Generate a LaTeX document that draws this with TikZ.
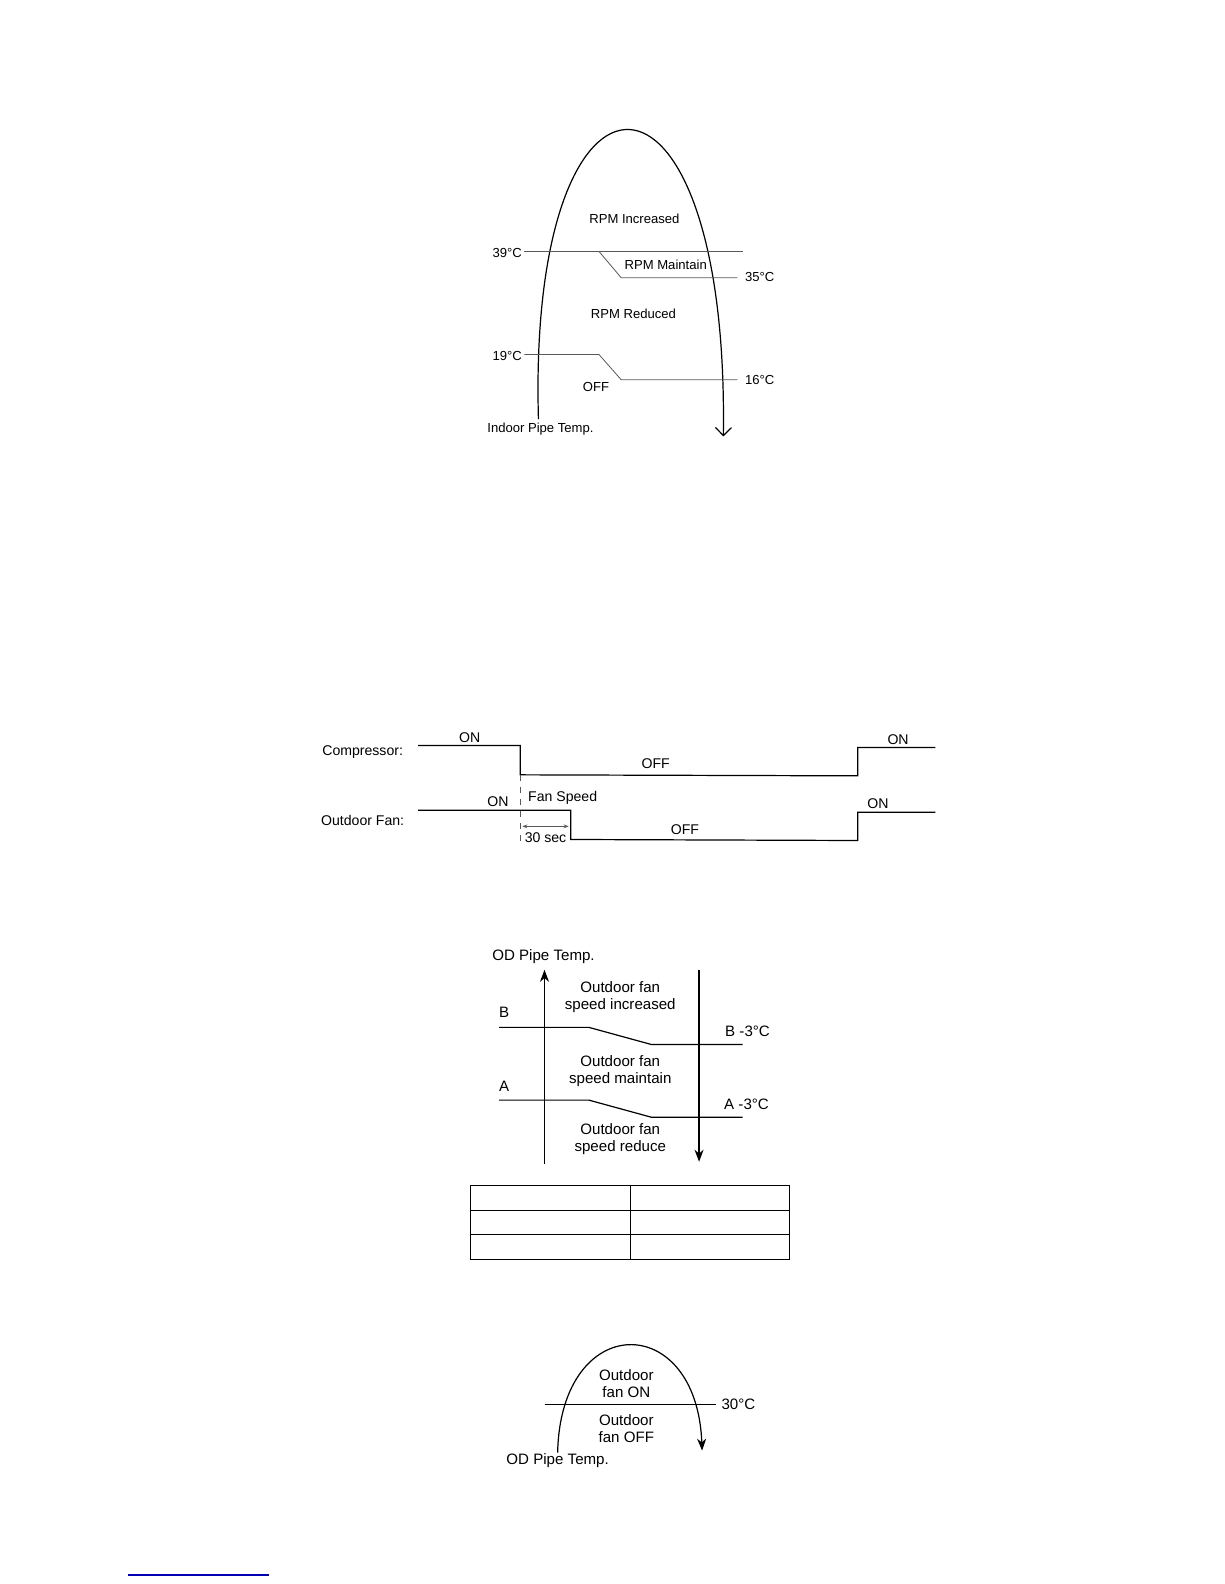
\documentclass[tikz,border=0pt]{standalone}
\usepackage{fontspec}
\setmainfont{Liberation Sans}
\usetikzlibrary{arrows.meta}
\begin{document}
\begin{tikzpicture}[x=0.5bp,y=-0.5bp,
  ln/.style={line width=0.6pt},
  lt/.style={line width=0.4pt, gray!70!black},
  ta/.style={font=\fontsize{6.5}{7.5}\selectfont, inner sep=0pt},
  tb/.style={font=\fontsize{7}{8}\selectfont, inner sep=0pt},
  tc/.style={font=\fontsize{7.5}{8.5}\selectfont, inner sep=0pt, align=center}]
\useasboundingbox (0,0) rectangle (1212,1568);
% top diagram
\coordinate (c1s) at (533,415); \coordinate (c1e) at (716,432);
\draw[ln,-{Straight Barb[length=4pt]}] (c1s) .. controls (522,30) and (722,30) .. (c1e);
\draw[lt] (519,249) -- (735,249);
\draw[lt] (593,249) -- (615,275) -- (730,275);
\draw[lt] (519,351) -- (593,351) -- (615,376) -- (730,376);
\node[ta] (t39) at (502,250) {39°C};
\node[ta] (t35) at (752,274) {35°C};
\node[ta] (t19) at (502,352) {19°C};
\node[ta] (t16) at (752,376) {16°C};
\node[ta] (ri) at (628,217) {RPM Increased};
\node[ta] (rm) at (659,262) {RPM Maintain};
\node[ta] (rr) at (627,311) {RPM Reduced};
\node[ta] (off1) at (590,383) {OFF};
\node[ta] (ipt) at (535,425) {Indoor Pipe Temp.};
% timing
\draw[ln] (414,738) -- (515,738) -- (515,767) -- (849,768) -- (849,740) -- (926,740);
\draw[ln] (414,802) -- (565,802) -- (565,831) -- (849,832) -- (849,804) -- (926,804);
\draw[lt, dashed] (515,767) -- (515,835);
\draw[lt,{Stealth[length=2.5pt]}-{Stealth[length=2.5pt]}] (517,818) -- (563,818);
\node[tb] (cmp) at (359,744) {Compressor:};
\node[tb] (ofn) at (359,812) {Outdoor Fan:};
\node[tb] (on1) at (465,730) {ON};
\node[tb] (of2) at (649,756) {OFF};
\node[tb] (on2) at (889,732) {ON};
\node[tb] (fs) at (557,790) {Fan Speed};
\node[tb] (on3) at (493,794) {ON};
\node[tb] (on4) at (869,796) {ON};
\node[tb] (of3) at (678,821) {OFF};
\node[tb] (s30) at (540,829) {30 sec};
% OD diagram
\draw[ln,-{Stealth[length=6pt]}] (539,1152) -- (539,960);
\draw[ln,-{Stealth[length=6pt]}] (692,960) -- (692,1150);
\draw[ln] (494,1017) -- (583,1017) -- (645,1034) -- (735,1034);
\draw[ln] (494,1089) -- (583,1089) -- (645,1106) -- (735,1106);
\node[tc] (odp) at (538,947) {OD Pipe Temp.};
\node[tc] (b) at (499,1002) {B};
\node[tc] (b3) at (740,1021) {B -3°C};
\node[tc] (a) at (499,1075) {A};
\node[tc] (a3) at (739,1093) {A -3°C};
\node[tc] (z1) at (614,987) {Outdoor fan\\speed increased};
\node[tc] (z2) at (614,1060) {Outdoor fan\\speed maintain};
\node[tc] (z3) at (614,1128) {Outdoor fan\\speed reduce};
% table
\draw[line width=0.5pt] (466,1174) rectangle (782,1247);
\draw[line width=0.5pt] (466,1198) -- (782,1198) (466,1222) -- (782,1222) (624,1174) -- (624,1247);
% bottom
\draw[ln,-{Stealth[length=6pt]}] (552,1438) .. controls (555,1297) and (690,1297) .. (695,1436);
\draw[ln] (539,1390) -- (709,1390);
\node[tc] (t30) at (731,1390) {30°C};
\node[tc] (fon) at (620,1370) {Outdoor\\fan ON};
\node[tc] (foff) at (620,1414) {Outdoor\\fan OFF};
\node[tc] (odp2) at (552,1446) {OD Pipe Temp.};
\draw[blue!70!black, line width=0.6pt] (127,1559) -- (266,1559);
\end{tikzpicture}
\end{document}
